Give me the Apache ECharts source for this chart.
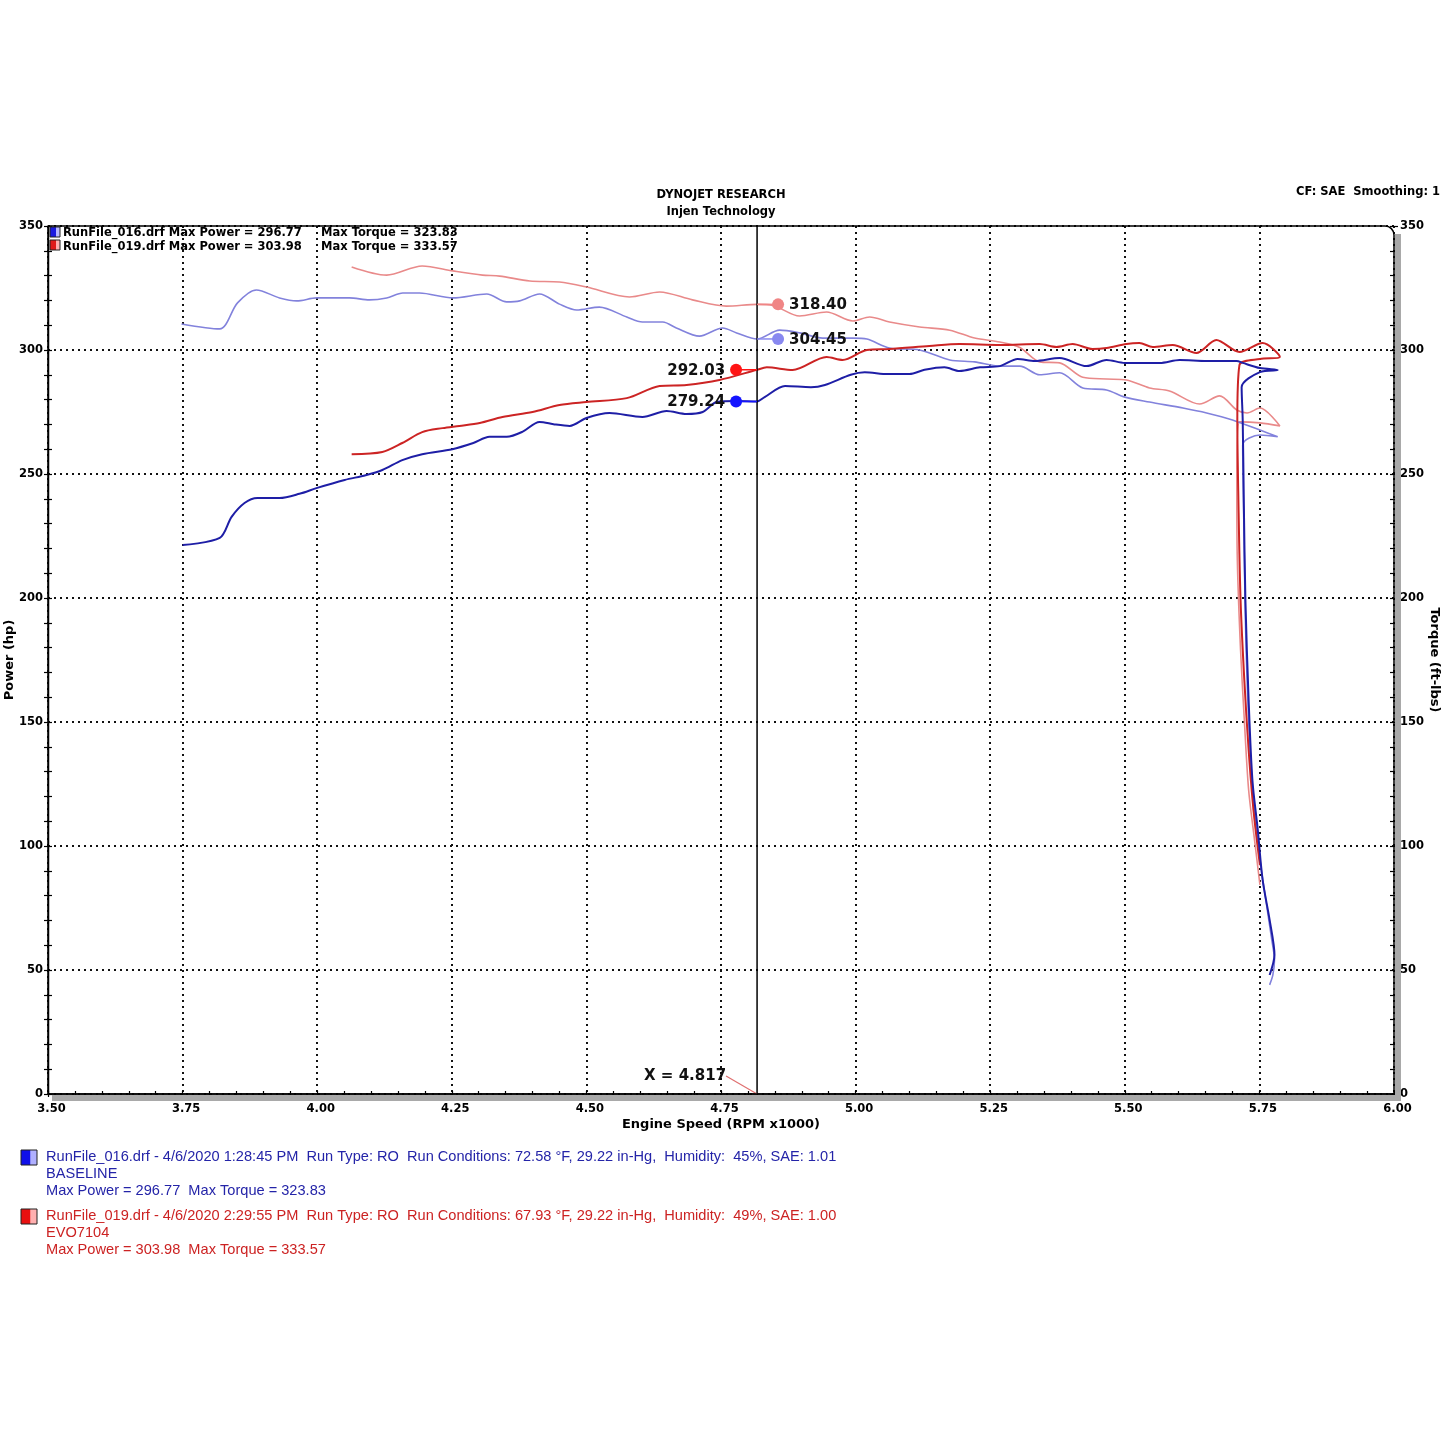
<!DOCTYPE html>
<html><head><meta charset="utf-8">
<script src="https://cdn.jsdelivr.net/npm/echarts/dist/echarts.min.js"></script>
<style>html,body{margin:0;padding:0;background:#fff}#c{width:1445px;height:1445px}</style>
</head><body><div id="c"></div>
<script>
// ---------- DATA (engine speed in RPM x1000) ----------
const power016Rpm = [3.750,3.819,3.841,3.865,3.889,3.930,3.967,4.000,4.051,4.090,4.121,4.158,4.195,4.251,4.290,4.320,4.352,4.381,4.413,4.441,4.469,4.500,4.543,4.604,4.649,4.686,4.716,4.742,4.779,4.817,4.831,4.869,4.917,4.943,4.991,5.017,5.060,5.100,5.128,5.165,5.193,5.231,5.268,5.301,5.333,5.379,5.429,5.466,5.500,5.565,5.602,5.652,5.708,5.719,5.751,5.784,5.751,5.717,5.719,5.721,5.724,5.730,5.737,5.747,5.756,5.769,5.778,5.769];
const power016Hp  = [221.4,224.2,232.7,238.3,240.3,240.3,242.0,244.4,247.6,249.5,251.6,255.6,258.0,260.0,262.5,265.0,265.0,267.0,271.0,270.0,269.4,272.6,274.6,273.0,275.4,274.2,275.0,279.0,279.4,279.24,281.0,285.5,285.0,285.9,290.0,291.0,290.3,290.3,292.0,293.0,291.5,293.0,293.5,296.4,295.6,296.8,293.5,296.0,294.8,294.8,296.0,295.6,295.6,294.8,292.7,291.9,291.1,285.0,271.8,239.5,199.2,158.9,126.6,106.5,86.3,70.2,56.0,48.0];

const torque016Rpm = [3.748,3.819,3.852,3.887,3.930,3.962,3.999,4.060,4.097,4.129,4.159,4.190,4.252,4.315,4.352,4.376,4.413,4.450,4.482,4.524,4.575,4.604,4.642,4.667,4.710,4.753,4.779,4.817,4.859,4.896,4.939,4.995,5.021,5.063,5.119,5.175,5.221,5.268,5.305,5.342,5.379,5.422,5.466,5.500,5.546,5.608,5.652,5.700,5.751,5.784,5.751,5.719,5.721,5.724,5.730,5.739,5.751,5.762,5.773,5.778,5.775,5.769];
const torque016Ft  = [310.5,308.5,319.0,324.2,321.0,319.8,321.0,321.0,320.2,321.0,323.0,323.0,321.0,322.6,319.4,319.8,322.6,318.5,316.1,317.3,313.3,311.3,311.3,308.9,305.6,308.9,306.9,304.45,308.0,306.9,304.8,304.8,304.4,300.8,300.0,296.0,295.2,293.5,293.5,290.0,290.8,284.7,283.9,281.0,279.0,276.6,274.6,271.8,267.7,265.0,265.7,261.7,231.5,191.1,150.8,118.5,94.4,78.2,62.1,54.0,48.0,44.0];

const power019Rpm = [4.064,4.121,4.158,4.195,4.233,4.264,4.302,4.344,4.400,4.450,4.500,4.575,4.636,4.686,4.747,4.817,4.835,4.883,4.946,4.976,5.021,5.063,5.137,5.193,5.268,5.342,5.373,5.403,5.440,5.466,5.503,5.527,5.552,5.589,5.633,5.670,5.713,5.756,5.788,5.751,5.713,5.709,5.711,5.715,5.722,5.730,5.739,5.751];
const power019Hp  = [258.0,258.9,262.5,266.9,268.5,269.4,270.6,273.0,275.0,277.8,279.0,280.6,285.5,285.9,287.9,292.03,293.0,291.9,297.2,296.0,300.0,300.4,301.6,302.4,302.0,302.4,301.2,302.4,300.4,300.8,302.4,302.8,301.2,302.0,298.8,304.0,299.2,302.8,297.2,296.4,294.0,271.8,239.5,199.2,166.9,138.7,114.5,92.3];

const torque019Rpm = [4.064,4.129,4.195,4.252,4.307,4.339,4.395,4.450,4.500,4.580,4.636,4.697,4.760,4.817,4.846,4.896,4.946,4.995,5.026,5.063,5.119,5.175,5.221,5.268,5.305,5.342,5.379,5.422,5.466,5.503,5.546,5.583,5.639,5.676,5.708,5.727,5.751,5.788,5.751,5.713,5.708,5.709,5.715,5.722,5.730,5.741,5.751];
const torque019Ft  = [333.5,330.2,333.9,331.9,330.2,329.8,327.8,327.4,325.4,321.4,323.4,320.2,317.7,318.4,318.0,313.7,315.3,311.7,313.3,311.3,309.3,308.0,304.8,303.2,301.0,295.2,294.8,289.0,288.3,287.9,284.7,283.5,278.2,281.5,275.8,274.6,276.6,269.4,270.6,271.0,247.6,215.3,179.0,150.8,122.6,102.4,84.3];

const cursorRpm = 4.817;
const cursorValues = [318.40, 304.45, 292.03, 279.24];
const cursorLabels = ['318.40', '304.45', '292.03', '279.24'];
const cursorLabelX = 'X = 4.817';

const xTicks = [3.50,3.75,4.00,4.25,4.50,4.75,5.00,5.25,5.50,5.75,6.00];
const yTicks = [0,50,100,150,200,250,300,350];

const axisNames = ['Engine Speed (RPM x1000)', 'Power (hp)', 'Torque (ft-lbs)'];
const titleLines = ['DYNOJET RESEARCH', 'Injen Technology'];
const cornerText = 'CF: SAE  Smoothing: 1';
const topLegendA = ['RunFile_016.drf Max Power = 296.77', 'Max Torque = 323.83'];
const topLegendB = ['RunFile_019.drf Max Power = 303.98', 'Max Torque = 333.57'];
const bottomLegendA = ['RunFile_016.drf - 4/6/2020 1:28:45 PM  Run Type: RO  Run Conditions: 72.58 °F, 29.22 in-Hg,  Humidity:  45%, SAE: 1.01', 'BASELINE', 'Max Power = 296.77  Max Torque = 323.83'];
const bottomLegendB = ['RunFile_019.drf - 4/6/2020 2:29:55 PM  Run Type: RO  Run Conditions: 67.93 °F, 29.22 in-Hg,  Humidity:  49%, SAE: 1.00', 'EVO7104', 'Max Power = 303.98  Max Torque = 333.57'];

// ---------- STYLE ----------
const C_BLUE = '#1e1ea6', C_LBLUE = '#8282dc', C_RED = '#cc2424', C_LRED = '#e98a8a';
const dotColors = ['#f08585', '#8888f0', '#ff1414', '#1414ff'];
const dotSide = [1, 1, -1, -1];
const BF = 'DejaVu Sans';
const zip = (a, b) => a.map((v, i) => [v, b[i]]);

const chart = echarts.init(document.getElementById('c'), null, {renderer: 'canvas'});

const tickStyle = {color: '#000', width: 1.2};
const splitStyle = {color: '#111', type: [2, 4], width: 2};
const lblStyle = {fontFamily: BF, fontWeight: 'bold', fontSize: 11.5, color: '#000'};
const nameFont = {fontFamily: BF, fontWeight: 'bold', fontSize: 13};

function mkX(inside) {
  return {
    type: 'value', min: xTicks[0], max: xTicks[xTicks.length - 1], interval: 0.25, position: 'bottom',
    axisLine: {show: !inside, onZero: false, lineStyle: {color: '#000', width: 1.5}},
    axisTick: {show: true, inside: inside, length: 3, lineStyle: tickStyle},
    minorTick: {show: true, splitNumber: 5, length: 3, lineStyle: tickStyle},
    axisLabel: {show: !inside, formatter: v => v.toFixed(2), margin: 9, padding: [0, 0, 0, 7], ...lblStyle},
    splitLine: {show: !inside, lineStyle: splitStyle}
  };
}
function mkY(pos, inside) {
  const left = pos === 'left';
  return {
    type: 'value', min: yTicks[0], max: yTicks[yTicks.length - 1], interval: 50, position: pos,
    axisLine: {show: !inside && left, onZero: false, lineStyle: {color: '#000', width: 1.5}},
    axisTick: {show: true, inside: inside, length: 4, lineStyle: tickStyle},
    minorTick: {show: true, splitNumber: 5, length: 4, lineStyle: tickStyle},
    axisLabel: {show: !inside, margin: left ? 5 : 6, ...lblStyle},
    splitLine: {show: !inside && left, lineStyle: splitStyle}
  };
}

function lineSeries(name, data, color, width) {
  return {type: 'line', name, data, xAxisIndex: 0, yAxisIndex: 0, showSymbol: false, symbol: 'none',
    smooth: 0.3, lineStyle: {color, width}, itemStyle: {color}, z: 3, silent: true, animation: false};
}

const cursorSeries = {
  type: 'custom', xAxisIndex: 0, yAxisIndex: 0, z: 6, silent: true, animation: false,
  data: cursorValues.map((v, i) => [cursorRpm, v, i]),
  encode: {x: 0, y: 1},
  renderItem: (params, api) => {
    const i = api.value(2);
    const p = api.coord([api.value(0), api.value(1)]);
    const s = dotSide[i];
    const cx = p[0] + s * 21;
    return {type: 'group', children: [
      {type: 'line', shape: {x1: p[0], y1: p[1], x2: cx, y2: p[1]}, style: {stroke: dotColors[i], lineWidth: 1.5}},
      {type: 'circle', shape: {cx: cx, cy: p[1], r: 6}, style: {fill: dotColors[i]}},
      {type: 'text', x: cx + s * 11, y: p[1] + 1, style: {text: cursorLabels[i], align: s > 0 ? 'left' : 'right', verticalAlign: 'middle',
        fontFamily: BF, fontWeight: 'bold', fontSize: 15, fill: '#111'}}
    ]};
  }
};

const cursorLineSeries = {
  type: 'custom', xAxisIndex: 0, yAxisIndex: 0, z: 5, silent: true, animation: false,
  data: [[cursorRpm, yTicks[0], yTicks[yTicks.length - 1]]],
  encode: {x: 0, y: 1},
  renderItem: (params, api) => {
    const p0 = api.coord([api.value(0), api.value(1)]);
    const p1 = api.coord([api.value(0), api.value(2)]);
    return {type: 'group', children: [
      {type: 'line', shape: {x1: p0[0], y1: p0[1], x2: p1[0], y2: p1[1]}, style: {stroke: '#000', lineWidth: 1.5}},
      {type: 'line', shape: {x1: p0[0], y1: p0[1], x2: p0[0] - 31, y2: p0[1] - 18}, style: {stroke: '#e07070', lineWidth: 1.2}},
      {type: 'text', x: p0[0] - 31, y: p0[1] - 18, style: {text: cursorLabelX, align: 'right', verticalAlign: 'middle',
        fontFamily: BF, fontWeight: 'bold', fontSize: 15, fill: '#111'}}
    ]};
  }
};

function iconRect(x, y, w, h, dark, light) {
  return [
    {type: 'rect', shape: {x, y, width: w, height: h}, style: {fill: {type: 'linear', x: 0, y: 0, x2: 1, y2: 0,
      colorStops: [{offset: 0, color: dark}, {offset: 0.55, color: dark}, {offset: 0.6, color: light}, {offset: 1, color: light}]},
      stroke: '#222', lineWidth: 1}, z: 20}
  ];
}
function txt(x, y, text, font, fill, align, rotation) {
  return {type: 'text', x, y, z: 20, rotation: rotation || 0,
    style: {text, align: align || 'left', verticalAlign: 'middle', fill: fill || '#000', ...font}};
}
const boldSmall = {fontFamily: BF, fontWeight: 'bold', fontSize: 11.5};
const legFont = {fontFamily: 'Liberation Sans', fontSize: 14.6};

const graphics = [
  // drop shadow of plot frame
  {type: 'rect', shape: {x: 52, y: 1095, width: 1348, height: 6}, style: {fill: '#a9a9a9'}, z: 1},
  {type: 'rect', shape: {x: 1395, y: 234, width: 6, height: 867}, style: {fill: '#a9a9a9'}, z: 1},
  // frame
  {type: 'rect', shape: {x: 48.5, y: 226, width: 1345.5, height: 868, r: [0, 9, 0, 0]}, style: {fill: 'none', stroke: '#000', lineWidth: 1.5}, z: 10},
  // axis names
  txt(721, 1125, axisNames[0], nameFont, '#000', 'center'),
  txt(10, 660, axisNames[1], nameFont, '#000', 'center', Math.PI / 2),
  txt(1434, 660, axisNames[2], nameFont, '#000', 'center', -Math.PI / 2),
  txt(721, 195, titleLines[0], boldSmall, '#000', 'center'),
  txt(721, 212, titleLines[1], boldSmall, '#000', 'center'),
  txt(1440, 192, cornerText, boldSmall, '#000', 'right'),
  ...iconRect(50, 227, 10, 10, '#1a1ae0', '#b8b8ff'),
  ...iconRect(50, 240, 10, 10, '#e01a1a', '#ffb0b0'),
  txt(63, 233, topLegendA[0], boldSmall),
  txt(321, 233, topLegendA[1], boldSmall),
  txt(63, 247, topLegendB[0], boldSmall),
  txt(321, 247, topLegendB[1], boldSmall),
  ...iconRect(21, 1150, 16, 15, '#1010e8', '#b0b0ff'),
  ...iconRect(21, 1209, 16, 15, '#e81010', '#ffb0b0'),
  txt(46, 1157, bottomLegendA[0], legFont, '#2424a8'),
  txt(46, 1174, bottomLegendA[1], legFont, '#2424a8'),
  txt(46, 1191, bottomLegendA[2], legFont, '#2424a8'),
  txt(46, 1216, bottomLegendB[0], legFont, '#cc2222'),
  txt(46, 1233, bottomLegendB[1], legFont, '#cc2222'),
  txt(46, 1250, bottomLegendB[2], legFont, '#cc2222')
];

chart.setOption({
  animation: false,
  backgroundColor: '#ffffff',
  grid: {left: 48, right: 51, top: 226, bottom: 351, containLabel: false, outerBoundsMode: 'none'},
  xAxis: [mkX(false), mkX(true)],
  yAxis: [mkY('left', false), mkY('left', true), mkY('right', false), mkY('right', true)],
  series: [
    lineSeries('Torque 019', zip(torque019Rpm, torque019Ft), C_LRED, 1.6),
    lineSeries('Torque 016', zip(torque016Rpm, torque016Ft), C_LBLUE, 1.6),
    lineSeries('Power 019', zip(power019Rpm, power019Hp), C_RED, 2),
    lineSeries('Power 016', zip(power016Rpm, power016Hp), C_BLUE, 2),
    cursorLineSeries,
    cursorSeries
  ],
  graphic: graphics
});
</script></body></html>
